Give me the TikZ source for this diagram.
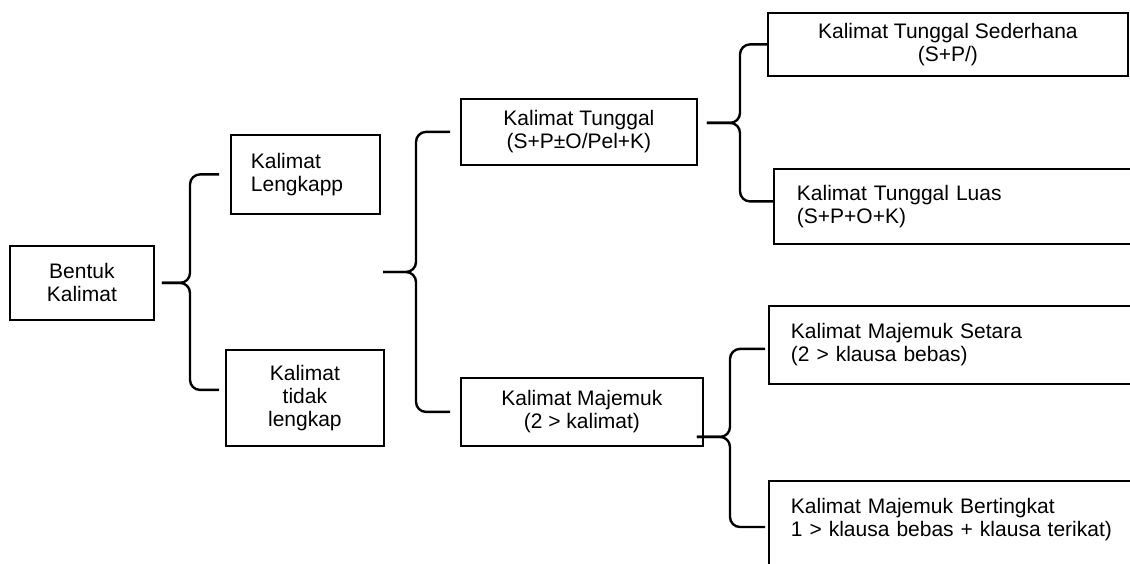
\documentclass[tikz,border=0pt]{standalone}
\usepackage{fontspec}
\setmainfont{Liberation Sans}
\usetikzlibrary{positioning,calc}

\begin{document}
\begin{tikzpicture}[x=1pt, y=-1pt,
kotak/.style={rectangle, draw=black, line width=1.8pt, inner sep=0pt, anchor=north west, font=\fontsize{21}{23}\selectfont},
tengah/.style={align=center},
kiri/.style={align=left, inner xsep=#1},
kiri/.default=20pt,
kurung/.style={line width=2.4pt, rounded corners=10pt}
]
\clip (0,0) rectangle (1130,563);
\fill[white] (0,0) rectangle (1130,563);

\node[kotak, tengah, minimum width=144, minimum height=74] (bentuk) at (9,245) {Bentuk\\Kalimat};
\node[kotak, kiri=20pt, text width=109pt, minimum height=79] (lengkap) at (230,134) {Kalimat\\Lengkapp};
\node[kotak, tengah, minimum width=158, minimum height=96] (tidak) at (225,349) {Kalimat\\tidak\\lengkap};
\node[kotak, tengah, minimum width=236, minimum height=66] (tunggal) at (460,98) {Kalimat Tunggal\\(S+P±O/Pel+K)};
\node[kotak, tengah, minimum width=242, minimum height=68] (majemuk) at (460,377) {Kalimat Majemuk\\(2 > kalimat)};
\node[kotak, tengah, minimum width=360, minimum height=63] (sederhana) at (767,12) {Kalimat Tunggal Sederhana\\(S+P/)};
\node[kotak, kiri=23pt, text width=330pt, minimum height=75] (luas) at (773,168) {Kalimat Tunggal Luas\\(S+P+O+K)};
\node[kotak, kiri=22pt, text width=340pt, minimum height=78] (setara) at (768,305) {Kalimat Majemuk Setara\\(2 > klausa bebas)};
\node[kotak, kiri=22pt, text width=340pt, inner ysep=18pt, text height=15pt, text depth=140pt] (bertingkat) at (768,480) {Kalimat Majemuk Bertingkat\\1 > klausa bebas + klausa terikat)};

\coordinate (ujung) at (383,272);

\draw[kurung] ([xshift=7pt]bentuk.east) -| ([xshift=-40pt]lengkap.west) -- ([xshift=-11pt]lengkap.west);
\draw[kurung] ([xshift=7pt]bentuk.east) -| ([xshift=-35pt,yshift=8pt]tidak.west) -- ([xshift=-6pt,yshift=8pt]tidak.west);
\draw[kurung] (ujung) -| ([xshift=-44pt]tunggal.west) -- ([xshift=-10pt]tunggal.west);
\draw[kurung] (ujung) -| ([xshift=-44pt]majemuk.west) -- ([xshift=-10pt]majemuk.west);
\draw[kurung] ([xshift=9pt,yshift=9pt]tunggal.east) -| ([xshift=-27pt]sederhana.west) -- (sederhana.west);
\draw[kurung] ([xshift=9pt,yshift=9pt]tunggal.east) -| ([xshift=-33pt,yshift=5pt]luas.west) -- ([yshift=5pt]luas.west);
\draw[kurung] ([xshift=-7pt,yshift=-25pt]majemuk.east) -| ([xshift=-38pt,yshift=-4pt]setara.west) -- ([xshift=-3pt,yshift=-4pt]setara.west);
\draw[kurung] ([xshift=-7pt,yshift=-25pt]majemuk.east) -| ([xshift=-38pt,yshift=-47pt]bertingkat.north west) -- ([xshift=-3pt,yshift=-47pt]bertingkat.north west);
\end{tikzpicture}
\end{document}
